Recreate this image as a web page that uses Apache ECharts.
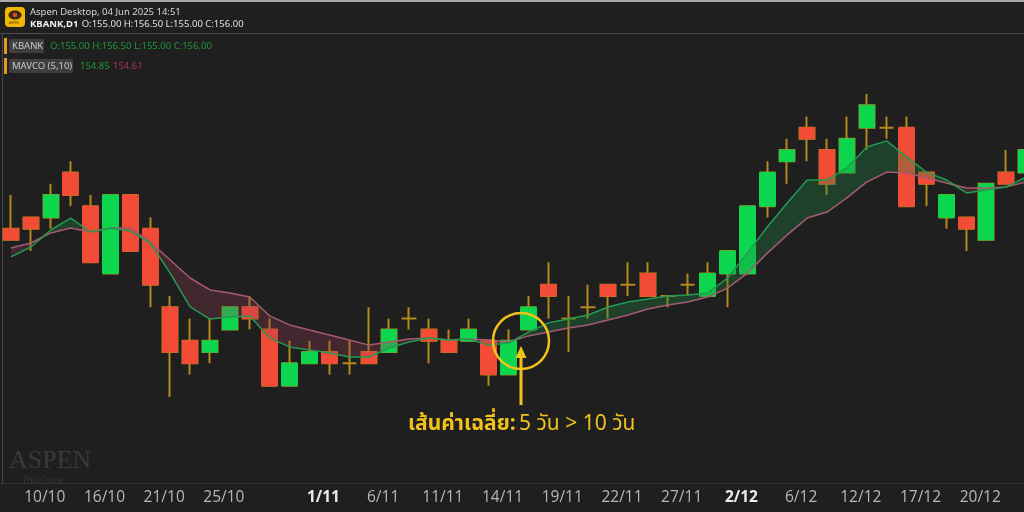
<!DOCTYPE html>
<html>
<head>
<meta charset="utf-8">
<script src="https://cdn.jsdelivr.net/npm/echarts@6/dist/echarts.min.js"></script>
<style>
html,body{margin:0;padding:0;background:#1f1f1f;}
#chart{width:1024px;height:512px;}
</style>
</head>
<body>
<div id="chart"></div>
<script>
// ---- data ----
const categories = ['8/10','9/10','10/10','11/10','15/10','16/10','17/10','18/10','21/10','22/10','24/10','25/10','28/10','29/10','30/10','31/10','1/11','4/11','5/11','6/11','7/11','8/11','11/11','12/11','13/11','14/11','15/11','18/11','19/11','20/11','21/11','22/11','25/11','26/11','27/11','28/11','29/11','2/12','3/12','4/12','6/12','9/12','11/12','12/12','13/12','16/12','17/12','18/12','19/12','20/12','23/12','24/12'];
const opens  = [154.5,155,155,157,155.5,152.5,156,154.5,151,149.5,149,150,151,150,147.5,148.5,149,148.5,149,149,150.5,150,149.5,149.5,149.5,148,150,152,150.5,151,152,152,152.5,151.5,152,151.5,152.5,152.5,155.5,157.5,159,158,157,159,159,159,157,155,155,154,157,157];
const closes = [154,154.5,156,156,153,156,153.5,152,149,148.5,149.5,151,150.5,147.5,148.5,149,148.5,148.5,148.5,150,150.5,149.5,149,150,148,149.5,151,151.5,150.5,151,151.5,152,151.5,151.5,152,152.5,153.5,155.5,157,158,158.5,156.5,158.5,160,159,155.5,156.5,156,154.5,156.5,156.5,158];
const lows   = [154,153.5,154.5,155.5,153,152.5,153.5,151,147,148,148.5,150,150,147.5,147.5,148.5,148,148,148.5,149,150,148.5,149,149.5,147.5,148,150,150.5,149,150.5,150.5,151.5,151.5,151,151.5,151.5,151,152.5,155,156.5,157.5,156,157,158,158.5,155.5,155.5,154.5,153.5,154,156.5,157];
const highs  = [156,155,156.5,157.5,156,156,156,155,151.5,150.5,150.5,151,151.5,150.5,149.5,149.5,149.5,149.5,151,150.5,151,150.5,150,150.5,149.5,150,151.5,153,151.5,152,152,153,153,151.5,152.5,153,153.5,155.5,157.5,158.5,159.5,158.5,159.5,160.5,159.5,159.5,157,156,155,156.5,158,158.5];
const ma5  = [153.24,153.68,154.44,154.97,154.35,154.53,154.39,153.86,152.52,151.01,150.47,150.56,150.61,149.63,149.23,149.09,148.96,148.78,148.78,149.18,149.45,149.63,149.54,149.58,149.31,149.40,149.89,150.30,150.47,150.65,151.01,151.23,151.36,151.50,151.54,151.63,152.30,153.41,154.57,155.64,156.67,156.67,157.20,158.14,158.41,157.69,157.02,156.67,156.09,156.22,156.36,156.80];
const ma10 = [153.64,153.86,154.31,154.53,154.35,154.53,154.53,153.90,153.10,152.30,151.77,151.63,151.45,150.61,150.21,149.98,149.76,149.54,149.31,149.45,149.58,149.63,149.54,149.58,149.54,149.45,149.72,149.89,150.07,150.21,150.43,150.65,150.92,151.10,151.23,151.45,151.85,152.52,153.41,154.22,154.97,155.24,155.87,156.58,157.02,156.98,156.76,156.53,156.31,156.31,156.36,156.58];
const tickLabels = ['10/10','16/10','21/10','25/10','1/11','6/11','11/11','14/11','19/11','22/11','27/11','2/12','6/12','12/12','17/12','20/12'];
const monthStarts = ['1/11','2/12'];

// ---- derived for the library ----
const wickData = categories.map((c,i)=>[opens[i],closes[i],lows[i],highs[i]]);
const bodyData = categories.map((c,i)=> opens[i]===closes[i] ? '-' :
  [opens[i],closes[i],Math.min(opens[i],closes[i]),Math.max(opens[i],closes[i])]);
const bandBase = ma5.map((v,i)=>Math.min(v,ma10[i]));
const bandUp   = ma5.map((v,i)=>Math.max(v-ma10[i],0));
const bandDown = ma5.map((v,i)=>Math.max(ma10[i]-v,0));

const RED='#f24b36', GREEN='#0bd64d', GOLD='#b4881a', YEL='#f2c21b';

const chart = echarts.init(document.getElementById('chart'), null, {renderer:'canvas'});
chart.setOption({
  backgroundColor:'#1f1f1f',
  animation:false,
  grid:{left:1,width:1035,top:40,bottom:29,containLabel:false,outerBoundsMode:'none'},
  xAxis:{
    type:'category', data:categories, boundaryGap:true,
    axisLine:{show:true,lineStyle:{color:'#333',width:1}},
    axisTick:{show:false},
    splitLine:{show:false},
    axisLabel:{
      interval:(idx,val)=>tickLabels.includes(val),
      margin:7,
      padding:[0,12,0,0],
      formatter:(v)=> monthStarts.includes(v) ? '{b|'+v+'}' : '{n|'+v+'}',
      rich:{
        n:{color:'#b8b8b8',fontSize:15.5,fontFamily:'Open Sans, Noto Sans, sans-serif',lineHeight:16},
        b:{color:'#ececec',fontSize:15.5,fontWeight:'bold',fontFamily:'Open Sans, Noto Sans, sans-serif',lineHeight:16}
      }
    }
  },
  yAxis:{type:'value',min:143.165,max:162.906,show:false,splitLine:{show:false},scale:true},
  series:[
    {type:'candlestick',name:'wick',data:wickData,barWidth:15,
     itemStyle:{color:GOLD,color0:GOLD,borderColor:GOLD,borderColor0:GOLD,borderColorDoji:GOLD,borderWidth:2},
     emphasis:{disabled:true}},
    {type:'candlestick',name:'body',data:bodyData,barWidth:16,
     itemStyle:{color:GREEN,color0:RED,borderColor:GREEN,borderColor0:RED,borderWidth:1},
     emphasis:{disabled:true}},
    {type:'line',data:bandBase,stack:'band',symbol:'none',lineStyle:{opacity:0},silent:true},
    {type:'line',data:bandUp,stack:'band',symbol:'none',lineStyle:{opacity:0},silent:true,
     areaStyle:{color:'rgba(30,140,70,0.45)'}},
    {type:'line',data:bandDown,stack:'band',symbol:'none',lineStyle:{opacity:0},silent:true,
     areaStyle:{color:'rgba(160,60,90,0.40)'}},
    {type:'line',name:'MA10',data:ma10,symbol:'none',lineStyle:{color:'#a65a70',width:1.5},silent:true},
    {type:'line',name:'MA5',data:ma5,symbol:'none',lineStyle:{color:'#229a52',width:1.5},silent:true}
  ],
  graphic:[
    {type:'rect',shape:{x:0,y:0,width:1024,height:2},style:{fill:'#a8a8a8'},silent:true},
    {type:'line',shape:{x1:0,y1:33.5,x2:1024,y2:33.5},style:{stroke:'#4a4a4a',lineWidth:1},silent:true},
    {type:'line',shape:{x1:2.5,y1:34,x2:2.5,y2:483},style:{stroke:'#444',lineWidth:1},silent:true},
    // logo
    {type:'rect',shape:{x:5,y:7,width:20,height:20,r:4},style:{fill:'#f2b705'},silent:true},
    {type:'ellipse',shape:{cx:15,cy:15,rx:6.5,ry:4.5},style:{fill:'#3b2a12'},silent:true},
    {type:'circle',shape:{cx:15,cy:15,r:2.2},style:{fill:'#e0452c'},silent:true},
    {type:'text',style:{x:9,y:22,text:'ASPEN',fill:'#5a3d08',font:'3px sans-serif'},silent:true},
    // header text
    {type:'text',style:{x:30,y:12,text:'Aspen Desktop, 04 Jun 2025 14:51',fill:'#d8d8d8',font:'9.5px "Noto Sans", sans-serif',verticalAlign:'middle'},silent:true},
    {type:'text',style:{x:30,y:24.5,text:'{b|KBANK,D1} {n|O:155.00 H:156.50 L:155.00 C:156.00}',verticalAlign:'middle',
      rich:{b:{fill:'#f0f0f0',fontWeight:'bold',fontSize:9.5,fontFamily:'Noto Sans'},n:{fill:'#e0e0e0',fontSize:9.5,fontFamily:'Noto Sans'}}},silent:true},
    // legend boxes
    {type:'rect',shape:{x:4,y:38,width:3,height:16},style:{fill:'#e59a1c'},silent:true},
    {type:'rect',shape:{x:9,y:39,width:35,height:14,r:1},style:{fill:'#3e3e3e'},silent:true},
    {type:'text',style:{x:12,y:46,text:'KBANK',fill:'#c8c8c8',font:'9.5px "Noto Sans", sans-serif',verticalAlign:'middle'},silent:true},
    {type:'text',style:{x:50,y:46,text:'O:155.00 H:156.50 L:155.00 C:156.00',fill:'#1c9a3c',font:'9.5px "Noto Sans", sans-serif',verticalAlign:'middle'},silent:true},
    {type:'rect',shape:{x:4,y:58,width:3,height:16},style:{fill:'#e59a1c'},silent:true},
    {type:'rect',shape:{x:9,y:59,width:64,height:14,r:1},style:{fill:'#3e3e3e'},silent:true},
    {type:'text',style:{x:12,y:66,text:'MAVCO (5,10)',fill:'#c8c8c8',font:'9.5px "Noto Sans", sans-serif',verticalAlign:'middle'},silent:true},
    {type:'text',style:{x:80,y:66,text:'154.85',fill:'#1c9a3c',font:'9.5px "Noto Sans", sans-serif',verticalAlign:'middle'},silent:true},
    {type:'text',style:{x:113,y:66,text:'154.61',fill:'#a83550',font:'9.5px "Noto Sans", sans-serif',verticalAlign:'middle'},silent:true},
    // watermark
    {type:'text',style:{x:9,y:461,text:'ASPEN',fill:'#3a3a3a',font:'26px "Liberation Serif", serif',verticalAlign:'middle'},silent:true},
    {type:'text',style:{x:22,y:480,text:'ThaiQuest',fill:'#353535',font:'italic 10px "Liberation Serif", serif',verticalAlign:'middle'},silent:true},
    // annotation
    {type:'circle',shape:{cx:521,cy:341,r:28},style:{stroke:YEL,lineWidth:2.5,fill:null},silent:true,z:100},
    {type:'line',shape:{x1:521,y1:405,x2:521,y2:355},style:{stroke:YEL,lineWidth:3},silent:true,z:100},
    {type:'polygon',shape:{points:[[521,346],[515.5,358],[526.5,358]]},style:{fill:YEL},silent:true,z:100},
    {type:'text',style:{x:408,y:426,text:'{b|เส้นค่าเฉลี่ย:} {n|5 วัน > 10 วัน}',verticalAlign:'middle',
      rich:{b:{fill:YEL,fontWeight:'bold',fontSize:21,fontFamily:'"Noto Sans Thai","Noto Sans Thai UI","Noto Sans",sans-serif'},
            n:{fill:YEL,fontSize:21,fontFamily:'"Noto Sans Thai","Noto Sans Thai UI","Noto Sans",sans-serif'}}},silent:true,z:100}
  ]
});
</script>
</body>
</html>
